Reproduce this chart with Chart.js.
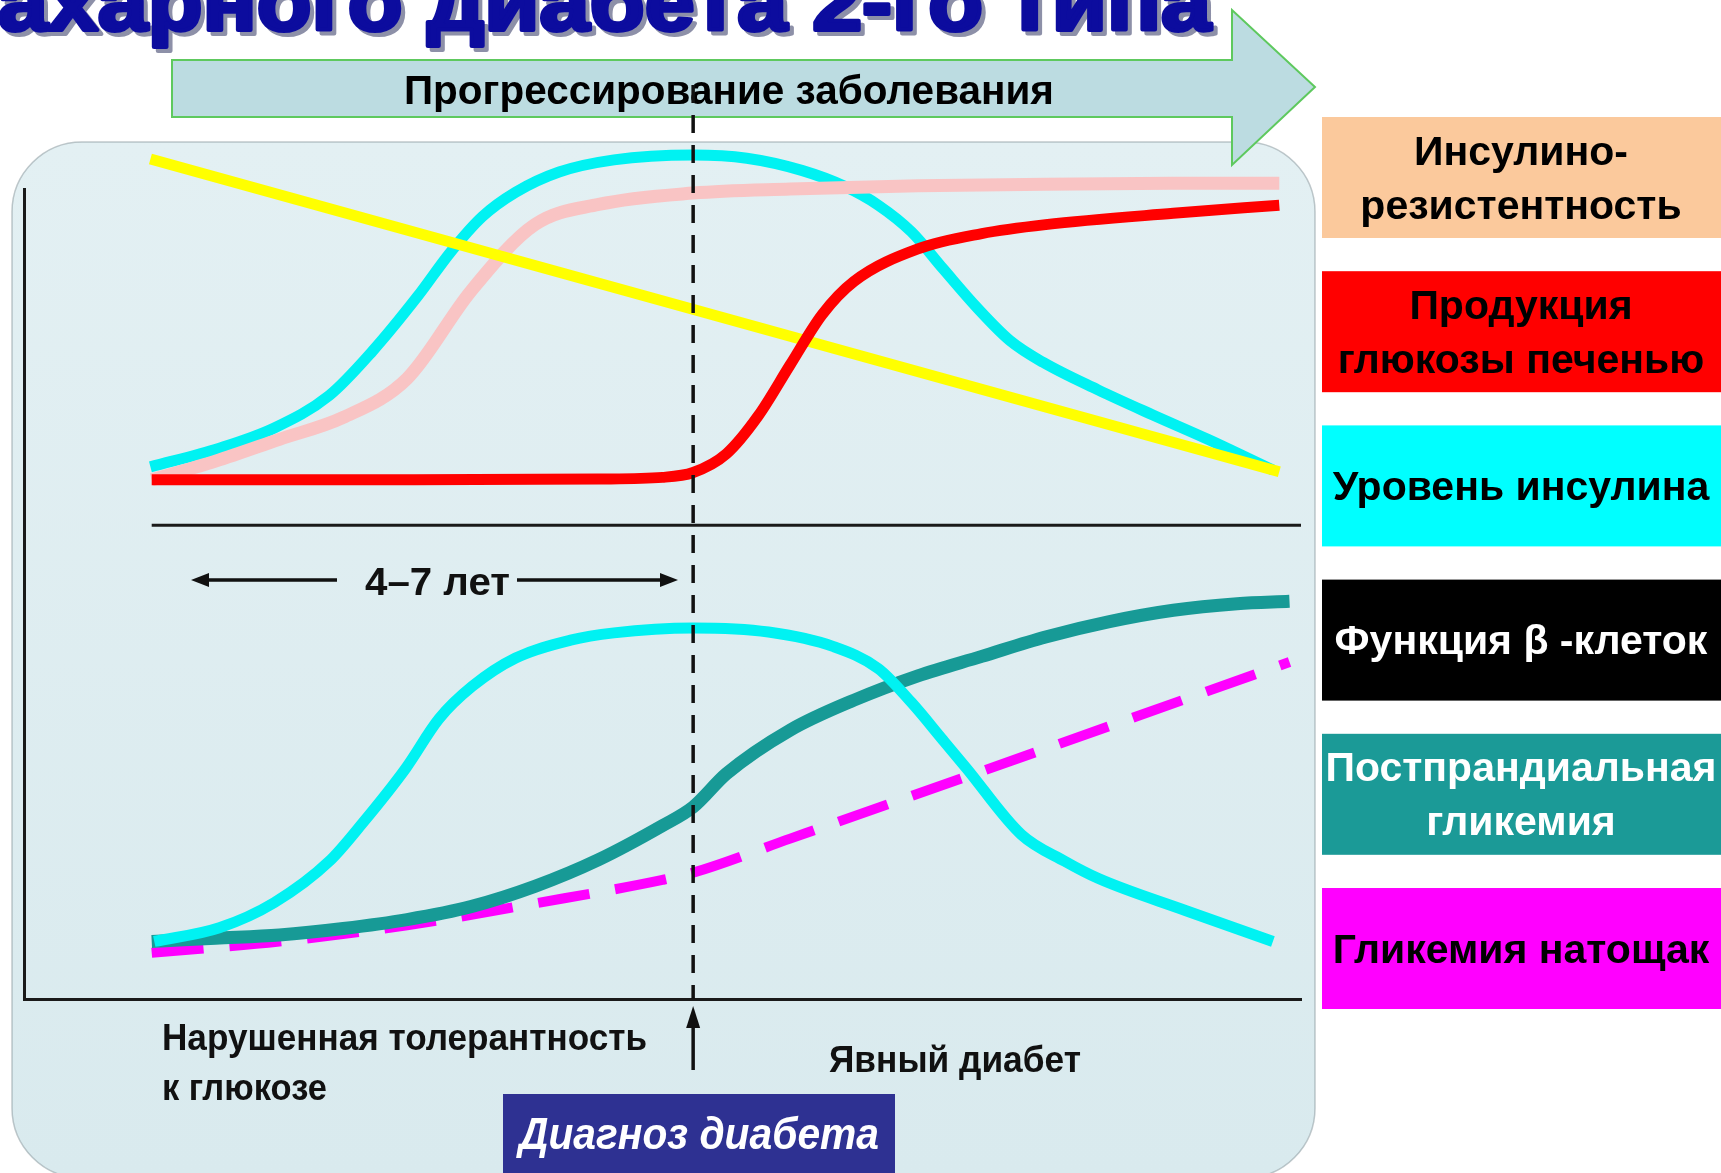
<!DOCTYPE html>
<html lang="ru">
<head>
<meta charset="utf-8">
<title>Естественное течение сахарного диабета 2-го типа</title>
<script src="https://cdn.jsdelivr.net/npm/chart.js@4.4.1/dist/chart.umd.min.js"></script>
<style>
  html, body { margin: 0; padding: 0; background: #fff; }
  #wrap { position: relative; width: 1721px; height: 1173px; overflow: hidden; }
</style>
</head>
<body>
<div id="wrap"><canvas id="chartContent"></canvas></div>
<script>
// время (условные единицы, 0..100 по оси X)
const diagnosisT = 52.4;
const separatorY = 58.5;

// верхняя панель
const insulinTopT = [9.9, 15.3, 19.6, 23.9, 27.3, 30.8, 33.4, 35.9, 38.5, 41.9, 46.2, 52.4, 56.6, 60.9, 64.3, 66.9, 69.5, 72.0, 74.6, 77.2, 79.8, 84.1, 88.4, 92.7, 97.8];
const insulinTop = [65.7, 68.0, 70.5, 74.5, 80.0, 86.7, 92.2, 96.6, 99.6, 102.1, 103.6, 104.2, 103.8, 102.3, 100.3, 98.0, 94.7, 90.1, 85.4, 81.3, 78.6, 75.2, 72.1, 69.1, 65.3];
const resistanceT = [10, 15, 20, 25, 30, 35, 40, 45, 52.4, 60, 70, 80, 90, 98.3];
const resistance = [64.1, 66.4, 69.1, 71.8, 76.6, 87.4, 95.6, 98.1, 99.5, 100.0, 100.4, 100.6, 100.7, 100.7];
const hepaticT = [10, 30, 45, 50, 52.4, 55, 57.5, 60, 62.5, 65, 70, 75, 80, 90, 98.3];
const hepatic = [64.1, 64.1, 64.2, 64.4, 65.0, 67.3, 72.0, 78.3, 84.5, 88.6, 92.6, 94.5, 95.6, 97.0, 98.0];
const betaT = [9.9, 98.3];
const betaFunction = [103.7, 65.1];

// нижняя панель
const insulinBottomT = [10.2, 15.3, 19.6, 23.9, 26.5, 29.9, 32.5, 35.1, 38.5, 42.8, 46.2, 52.4, 58.3, 63.4, 66.9, 69.5, 72.0, 73.8, 78.1, 81.5, 84.1, 91.0, 97.8];
const insulinBottom = [7.1, 8.8, 11.9, 17.0, 21.7, 28.5, 34.6, 38.6, 42.1, 44.3, 45.2, 45.8, 45.3, 43.5, 40.8, 36.6, 31.9, 28.5, 20.3, 17.0, 14.9, 10.9, 7.1];
const glucoseT = [10, 15, 20, 25, 30, 35, 40, 45, 50, 52.4, 55, 60, 65, 70, 75, 80, 85, 90, 95, 99.1];
const postprandial = [7.1, 7.5, 7.9, 8.7, 9.8, 11.4, 13.9, 17.2, 21.4, 23.7, 27.8, 33.2, 36.9, 39.9, 42.3, 44.7, 46.6, 48.0, 48.8, 49.1];
const fastingT = [10, 20, 30, 40, 50, 52.4, 60, 80, 99.1];
const fasting = [5.7, 7.1, 9.1, 11.8, 14.7, 15.6, 19.8, 30.9, 41.6];

// легенда справа
const legendLabels = [
  ["Инсулино-", "резистентность"],
  ["Продукция", "глюкозы печенью"],
  ["Уровень инсулина"],
  ["Функция β -клеток"],
  ["Постпрандиальная", "гликемия"],
  ["Гликемия натощак"],
];
const legendColors = ["#fbc99c", "#ff0000", "#00ffff", "#000000", "#1b9a97", "#ff00ff"];
const legendTextColors = ["#000", "#000", "#000", "#fff", "#fff", "#000"];

const FONT = '"Liberation Sans", Arial, sans-serif';

const toPoints = (xs, ys) => xs.map((x, i) => ({ x: x, y: ys[i] }));

const line = (label, xs, ys, color, width, order, dash) => ({
  label: label,
  data: toPoints(xs, ys),
  borderColor: color,
  backgroundColor: color,
  borderWidth: width,
  borderDash: dash || [],
  order: order,
  pointRadius: 0,
  fill: false,
  clip: false,
  cubicInterpolationMode: "monotone",
});

function drawText(ctx, text, x, y, font, color, width, align, stroke) {
  ctx.save();
  ctx.font = font;
  ctx.textAlign = align || "left";
  ctx.textBaseline = "alphabetic";
  const k = width ? width / ctx.measureText(text).width : 1;
  ctx.translate(x, y);
  ctx.scale(k, 1);
  ctx.fillStyle = color;
  ctx.fillText(text, 0, 0);
  if (stroke) {
    ctx.strokeStyle = color;
    ctx.lineWidth = stroke;
    ctx.lineJoin = "round";
    ctx.strokeText(text, 0, 0);
  }
  ctx.restore();
}

function arrowHead(ctx, x, y, dx, dy, len, half) {
  ctx.beginPath();
  ctx.moveTo(x, y);
  ctx.lineTo(x - dx * len - dy * half, y - dy * len + dx * half);
  ctx.lineTo(x - dx * len + dy * half, y - dy * len - dx * half);
  ctx.closePath();
  ctx.fill();
}

const decor = {
  id: "decor",
  beforeDraw(chart) {
    const ctx = chart.ctx;
    ctx.save();
    ctx.fillStyle = "#fff";
    ctx.fillRect(0, 0, chart.width, chart.height);

    // фон панели
    const g = ctx.createLinearGradient(0, 142, 0, 1173);
    g.addColorStop(0, "#e3f0f3");
    g.addColorStop(1, "#d9eaee");
    ctx.fillStyle = g;
    ctx.beginPath();
    ctx.roundRect(12, 142, 1303, 1036, 70);
    ctx.fill();
    ctx.strokeStyle = "rgba(140,155,160,0.55)";
    ctx.lineWidth = 1.5;
    ctx.stroke();

    // заголовок (обрезан сверху)
    drawText(ctx, "ахарного диабета 2-го типа", 2, 34, "bold 82px " + FONT, "#8d90a8", 1213, "left", 4);
    drawText(ctx, "ахарного диабета 2-го типа", -2, 30, "bold 82px " + FONT, "#0c0c9e", 1213, "left", 4);

    // стрелка прогрессирования
    ctx.beginPath();
    ctx.moveTo(172, 60);
    ctx.lineTo(1232, 60);
    ctx.lineTo(1232, 10);
    ctx.lineTo(1315, 87);
    ctx.lineTo(1232, 165);
    ctx.lineTo(1232, 117);
    ctx.lineTo(172, 117);
    ctx.closePath();
    ctx.fillStyle = "#bcdce1";
    ctx.fill();
    ctx.strokeStyle = "#5ec95e";
    ctx.lineWidth = 2;
    ctx.stroke();
    drawText(ctx, "Прогрессирование заболевания", 729, 104, "bold 41px " + FONT, "#000", 650, "center");

    // легенда
    legendLabels.forEach((lines, i) => {
      const top = 117 + 154.2 * i;
      ctx.fillStyle = legendColors[i];
      ctx.fillRect(1322, top, 399, 121);
      const cy = top + 60.5;
      const base = lines.length === 2 ? [cy - 13, cy + 41] : [cy + 14];
      lines.forEach((t, j) => {
        ctx.save();
        ctx.font = "bold 41px " + FONT;
        ctx.textAlign = "center";
        ctx.fillStyle = legendTextColors[i];
        ctx.fillText(t, 1521, base[j], 392);
        ctx.restore();
      });
    });
    ctx.restore();
  },
  afterDatasetsDraw(chart) {
    const ctx = chart.ctx;
    const xs = chart.scales.x;
    const ys = chart.scales.y;
    const area = chart.chartArea;
    const xd = xs.getPixelForValue(diagnosisT);
    ctx.save();

    // разделитель панелей
    ctx.strokeStyle = "#1a1a1a";
    ctx.lineWidth = 3;
    ctx.beginPath();
    ctx.moveTo(xs.getPixelForValue(10), ys.getPixelForValue(separatorY));
    ctx.lineTo(area.right, ys.getPixelForValue(separatorY));
    ctx.stroke();

    // линия диагноза
    ctx.setLineDash([18, 12]);
    ctx.lineWidth = 3.5;
    ctx.strokeStyle = "#111";
    ctx.beginPath();
    ctx.moveTo(xd, 85);
    ctx.lineTo(xd, area.bottom);
    ctx.stroke();
    ctx.setLineDash([]);

    // 4–7 лет
    ctx.fillStyle = "#111";
    ctx.lineWidth = 3.5;
    ctx.beginPath();
    ctx.moveTo(337, 580);
    ctx.lineTo(200, 580);
    ctx.moveTo(517, 580);
    ctx.lineTo(668, 580);
    ctx.stroke();
    arrowHead(ctx, 191, 580, -1, 0, 18, 7);
    arrowHead(ctx, 678, 580, 1, 0, 18, 7);
    drawText(ctx, "4–7 лет", 365, 595, "bold 38px " + FONT, "#111", 145, "left");

    // стрелка вверх к диагнозу
    ctx.beginPath();
    ctx.moveTo(xd, 1070);
    ctx.lineTo(xd, 1025);
    ctx.stroke();
    arrowHead(ctx, xd, 1006, 0, -1, 22, 7);

    drawText(ctx, "Нарушенная толерантность", 162, 1050, "bold 36px " + FONT, "#111", 485, "left");
    drawText(ctx, "к глюкозе", 162, 1100, "bold 36px " + FONT, "#111", 165, "left");
    drawText(ctx, "Явный диабет", 829, 1072, "bold 36px " + FONT, "#111", 252, "left");

    ctx.fillStyle = "#2e3192";
    ctx.fillRect(503, 1094, 392, 82);
    drawText(ctx, "Диагноз диабета", 699, 1149, "italic bold 44px " + FONT, "#fff", 360, "center");
    ctx.restore();
  },
};

const chart = document.getElementById("chartContent").getContext("2d");

const data = {
  datasets: [
    line("Продукция глюкозы печенью", hepaticT, hepatic, "#ff0000", 11, 1),
    line("Функция β-клеток", betaT, betaFunction, "#ffff00", 11, 2),
    line("Инсулинорезистентность", resistanceT, resistance, "#f9c4c4", 13, 3),
    line("Уровень инсулина", insulinTopT, insulinTop, "#00f2f2", 11, 4),
    line("Уровень инсулина", insulinBottomT, insulinBottom, "#00f2f2", 11, 5),
    line("Постпрандиальная гликемия", glucoseT, postprandial, "#179a96", 13, 6),
    line("Гликемия натощак", fastingT, fasting, "#ff00ff", 10, 7, [52, 26]),
  ],
};

const config = {
  type: "line",
  data: data,
  options: {
    responsive: true,
    maintainAspectRatio: false,
    animation: false,
    layout: { padding: { left: 24, top: 189, right: 420, bottom: 174 } },
    scales: {
      x: {
        type: "linear",
        min: 0,
        max: 100,
        grid: { display: false, drawTicks: false },
        ticks: { display: false },
        border: { display: true, color: "#1a1a1a", width: 3 },
      },
      y: {
        type: "linear",
        min: 0,
        max: 100,
        grid: { display: false, drawTicks: false },
        ticks: { display: false },
        border: { display: true, color: "#1a1a1a", width: 3 },
      },
    },
    plugins: {
      legend: { display: false },
      tooltip: { enabled: false },
    },
  },
  plugins: [decor],
};

new Chart(chart, config);
</script>
</body>
</html>
